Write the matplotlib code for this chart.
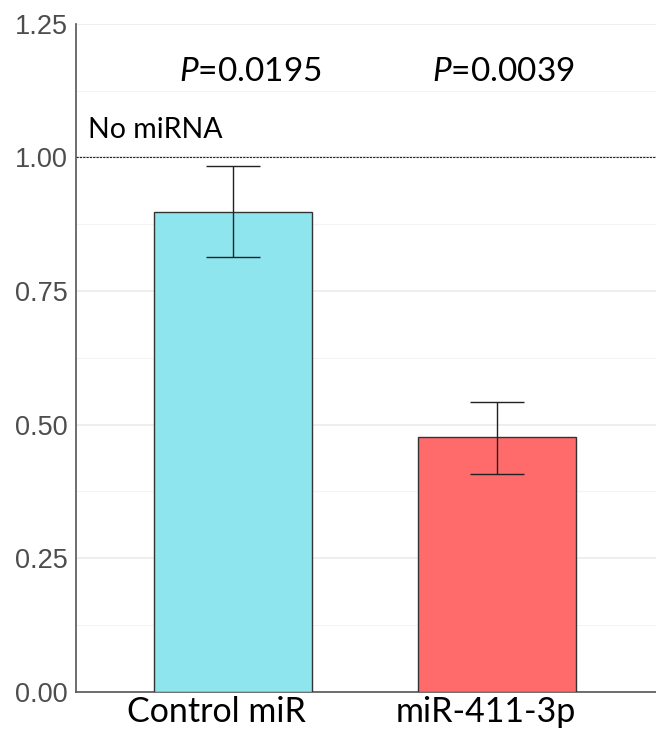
import matplotlib.pyplot as plt
import matplotlib.transforms as mtransforms
import numpy as np

groups = ['Control miR', 'miR-411-3p']
means = [0.898, 0.476]
err_low = [0.813, 0.408]
err_high = [0.984, 0.543]
colors = ['#8EE5EE', '#FF6A6A']
pvals = ['0.0195', '0.0039']

plt.rcParams['mathtext.fontset'] = 'custom'
plt.rcParams['mathtext.rm'] = 'Lato'
plt.rcParams['mathtext.it'] = 'Lato:italic'

fig = plt.figure(figsize=(6.56, 7.35), dpi=100)
ax = fig.add_axes([0.116, 0.059, 0.884, 0.9085])

x = np.arange(1, len(groups) + 1)
means = np.array(means)
yerr = [means - np.array(err_low), np.array(err_high) - means]

ax.bar(x, means, width=0.6, color=colors, edgecolor='#333333', linewidth=1.0, zorder=3)
ax.errorbar(x, means, yerr=yerr, fmt='none', ecolor='#222222', elinewidth=1.0,
            capsize=19.5, capthick=1.0, zorder=4)

ax.axhline(1.0, color='#222222', linestyle=(0, (2, 1)), linewidth=0.8, zorder=2)
ax.text(0.45, 1.052, 'No miRNA', fontsize=20.5, family='Lato', va='center', ha='left')
for xi, p in zip([1.064, 2.026], pvals):
    ax.text(xi, 1.159, r'$\it{P}$=' + p, fontsize=24, family='Lato', ha='center', va='center')

ax.set_xlim(0.404, 2.605)
ax.set_ylim(0, 1.25)
ax.set_yticks([0, 0.25, 0.5, 0.75, 1.0, 1.25])
ax.set_yticks(np.arange(0.125, 1.25, 0.25), minor=True)
ax.set_yticklabels(['0.00', '0.25', '0.50', '0.75', '1.00', '1.25'])
ax.set_xticks(x)
ax.set_xticklabels([])

# category labels sit a little left of the bar centres in the original
trans = mtransforms.blended_transform_factory(ax.transData, ax.transAxes)
for xi, g in zip([0.935, 1.958], groups):
    ax.text(xi, -0.007, g, transform=trans, fontsize=24.5, family='Lato',
            ha='center', va='top')

ax.grid(axis='y', which='major', color='#EBEBEB', linewidth=1.2, zorder=0)
ax.grid(axis='y', which='minor', color='#F4F4F4', linewidth=0.8, zorder=0)
ax.tick_params(axis='y', which='both', length=0, pad=6, labelsize=19.5, labelcolor='#4D4D4D')
ax.tick_params(axis='x', length=0)
for lab in ax.get_yticklabels():
    lab.set_family('Liberation Sans')

for s in ['top', 'right']:
    ax.spines[s].set_visible(False)
for s in ['left', 'bottom']:
    ax.spines[s].set_color('#555555')
    ax.spines[s].set_linewidth(1.2)

fig.savefig('out.png', dpi=100)
